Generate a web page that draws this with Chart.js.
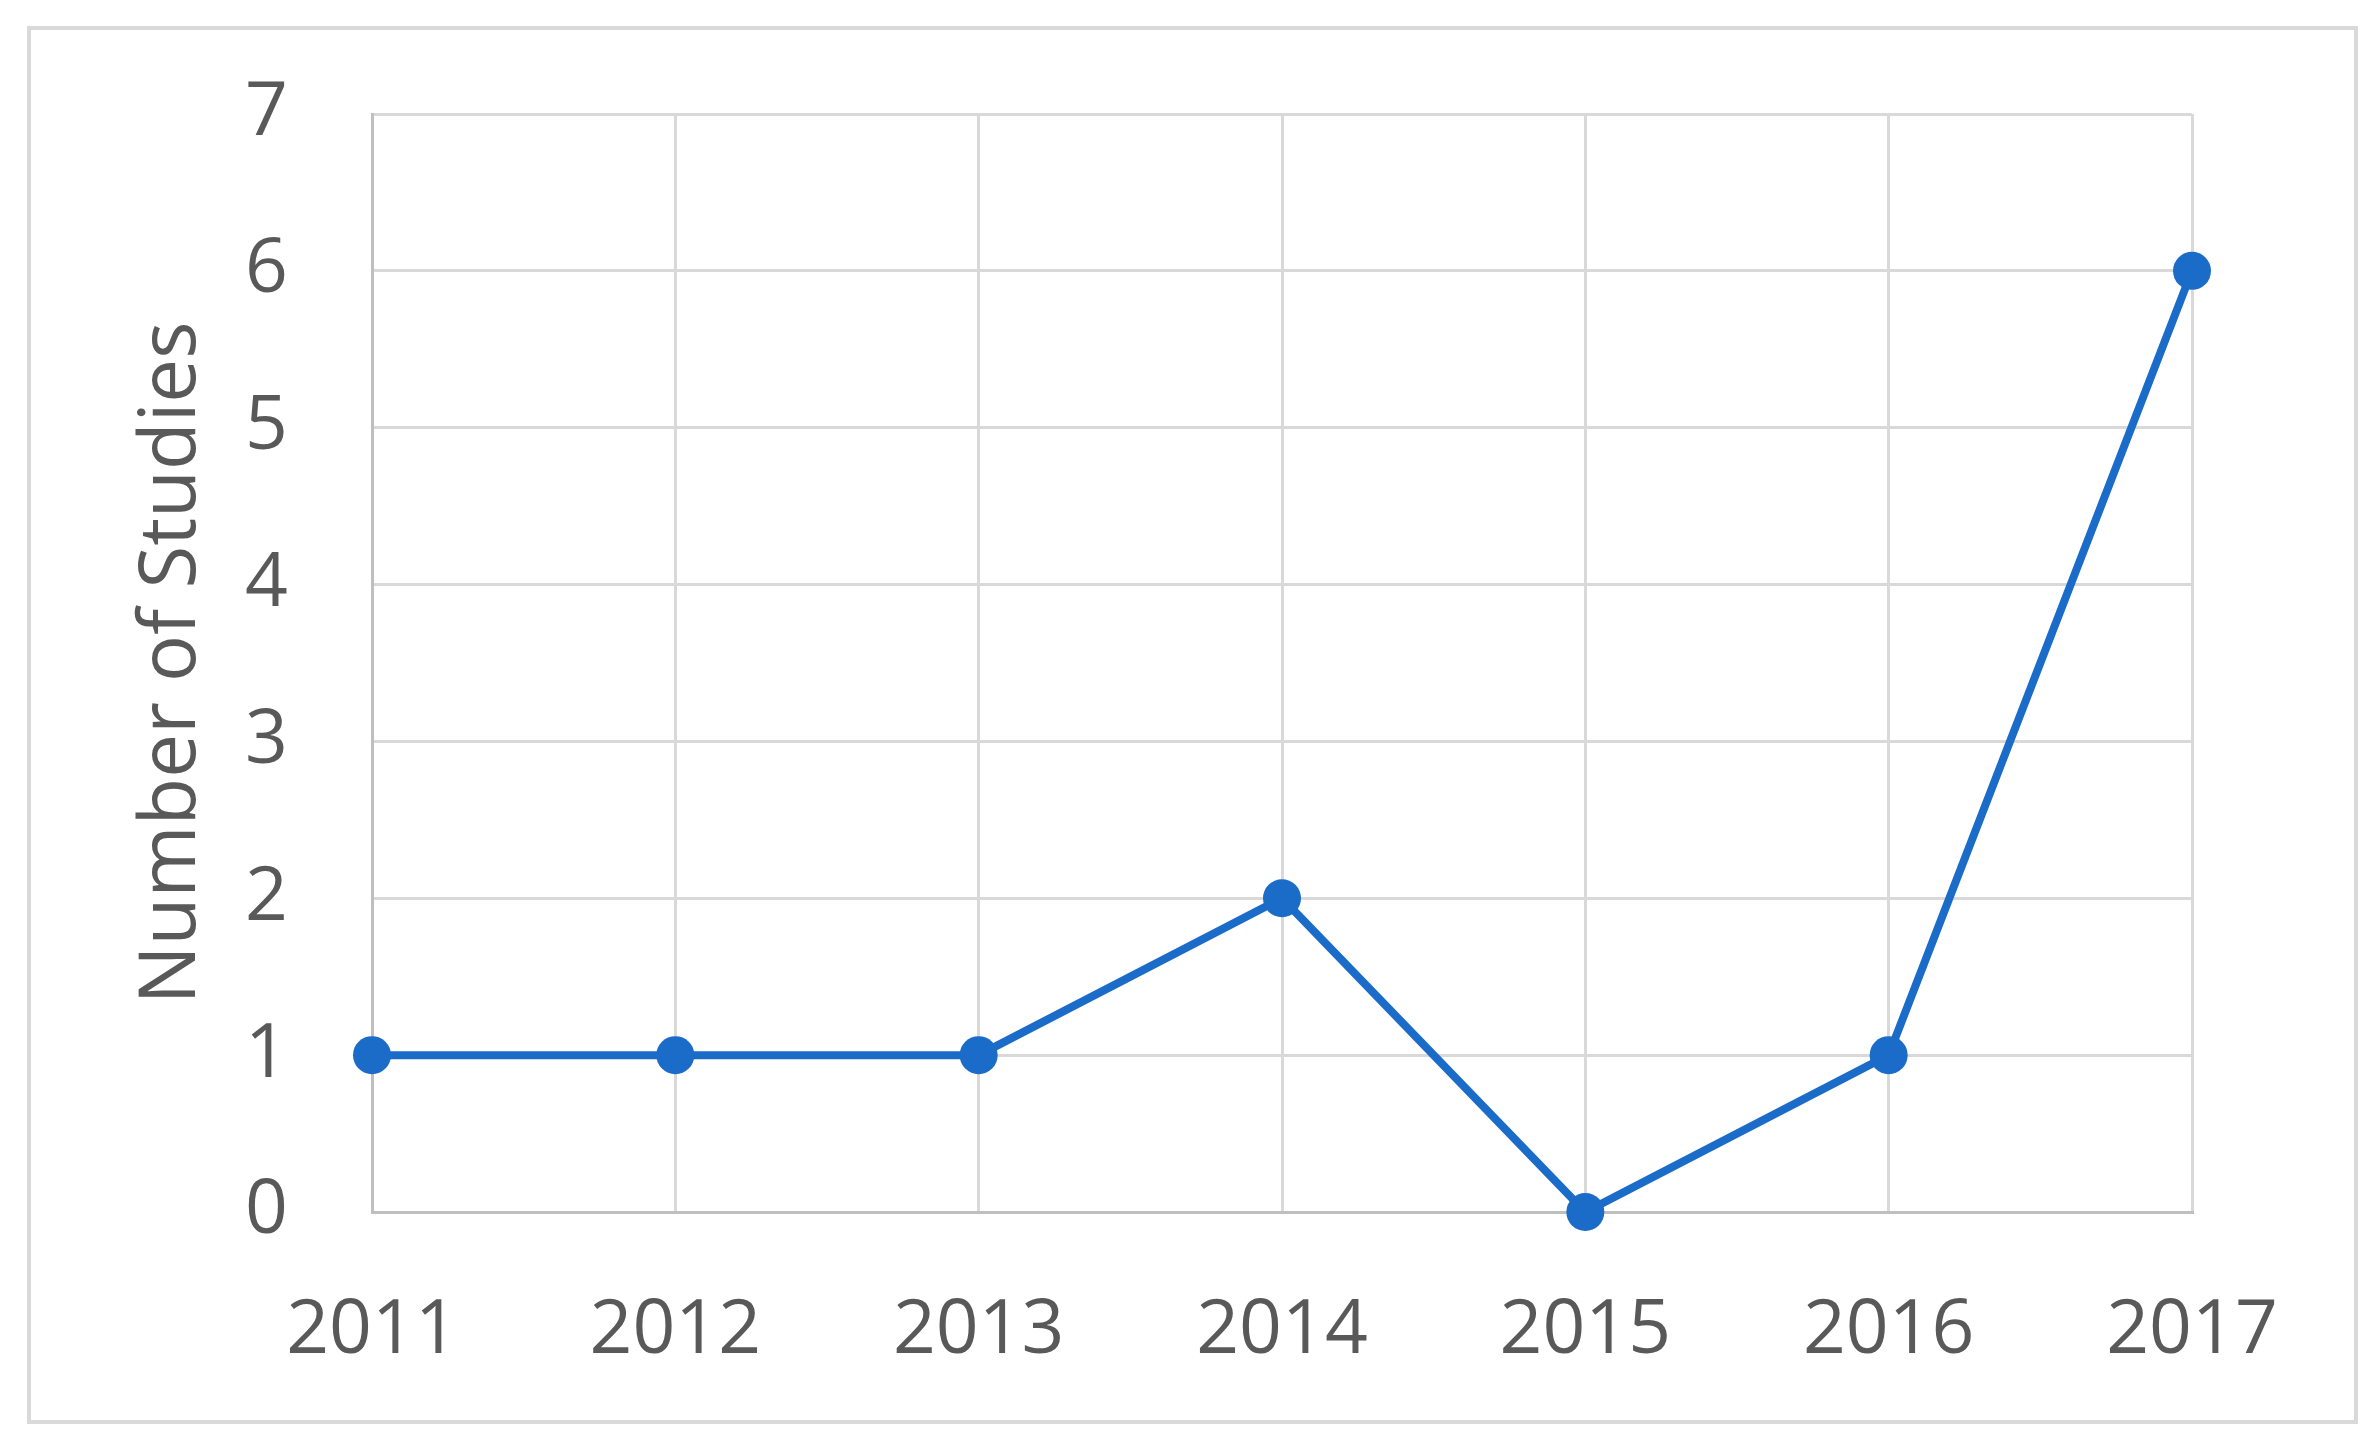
<!DOCTYPE html>
<html>
<head>
<meta charset="utf-8">
<script src="https://cdn.jsdelivr.net/npm/chart.js@4/dist/chart.umd.min.js"></script>
<style>
  html, body { margin: 0; padding: 0; background: #fff; }
  canvas { display: block; }
</style>
</head>
<body>
<canvas id="studiesChart" width="2379" height="1449"></canvas>
<script>
// values
const years = ['2011', '2012', '2013', '2014', '2015', '2016', '2017'];
const studies = [1, 1, 1, 2, 0, 1, 6];
const yTicks = [0, 1, 2, 3, 4, 5, 6, 7];

const lineBlue = '#1b6bc9';
const textGray = '#595959';
const gridGray = '#d9d9d9';

// white page + light outer frame
const framePlugin = {
    id: 'frame',
    beforeDraw(chart) {
        const ctx = chart.ctx;
        ctx.save();
        ctx.fillStyle = '#fff';
        ctx.fillRect(0, 0, chart.width, chart.height);
        ctx.strokeStyle = gridGray;
        ctx.lineWidth = 4;
        ctx.strokeRect(29, 28, 2327, 1394);
        ctx.restore();
    }
};

const ctx = document.getElementById('studiesChart').getContext('2d');
new Chart(ctx, {
    type: 'line',
    data: {
        labels: years,
        datasets: [{
            label: 'Number of Studies',
            data: studies,
            borderColor: lineBlue,
            backgroundColor: lineBlue,
            borderWidth: 8,
            pointRadius: 19,
            pointBorderWidth: 0,
            pointBackgroundColor: lineBlue,
            tension: 0,
            clip: false
        }]
    },
    options: {
        responsive: false,
        animation: false,
        layout: { padding: { left: 0, right: 187, top: 114, bottom: 0 } },
        plugins: {
            legend: { display: false },
            tooltip: { enabled: false }
        },
        scales: {
            x: {
                offset: false,
                grid: { color: gridGray, lineWidth: 3, drawTicks: false },
                border: { color: '#bfbfbf', width: 3 },
                ticks: {
                    color: textGray,
                    padding: 75,
                    font: { family: 'Open Sans', size: 75 }
                },
                afterFit(scale) { scale.height = 237; }
            },
            y: {
                min: yTicks[0],
                max: yTicks[yTicks.length - 1],
                afterBuildTicks(scale) { scale.ticks = yTicks.map(v => ({ value: v })); },
                grid: { color: gridGray, lineWidth: 3, drawTicks: false },
                border: { color: '#bfbfbf', width: 3 },
                ticks: {
                    color: textGray,
                    padding: 84,
                    font: { family: 'Open Sans', size: 75 }
                },
                title: {
                    display: true,
                    text: 'Number of Studies',
                    color: textGray,
                    padding: { top: 126, bottom: 0 },
                    font: { family: 'Open Sans', size: 78, lineHeight: 1.2 }
                },
                afterFit(scale) {
                    scale.width = 372;
                    // keep label overhang from pushing the plot top down
                    scale.paddingTop = 0;
                    scale.paddingBottom = 0;
                }
            }
        }
    },
    plugins: [framePlugin]
});
</script>
</body>
</html>
